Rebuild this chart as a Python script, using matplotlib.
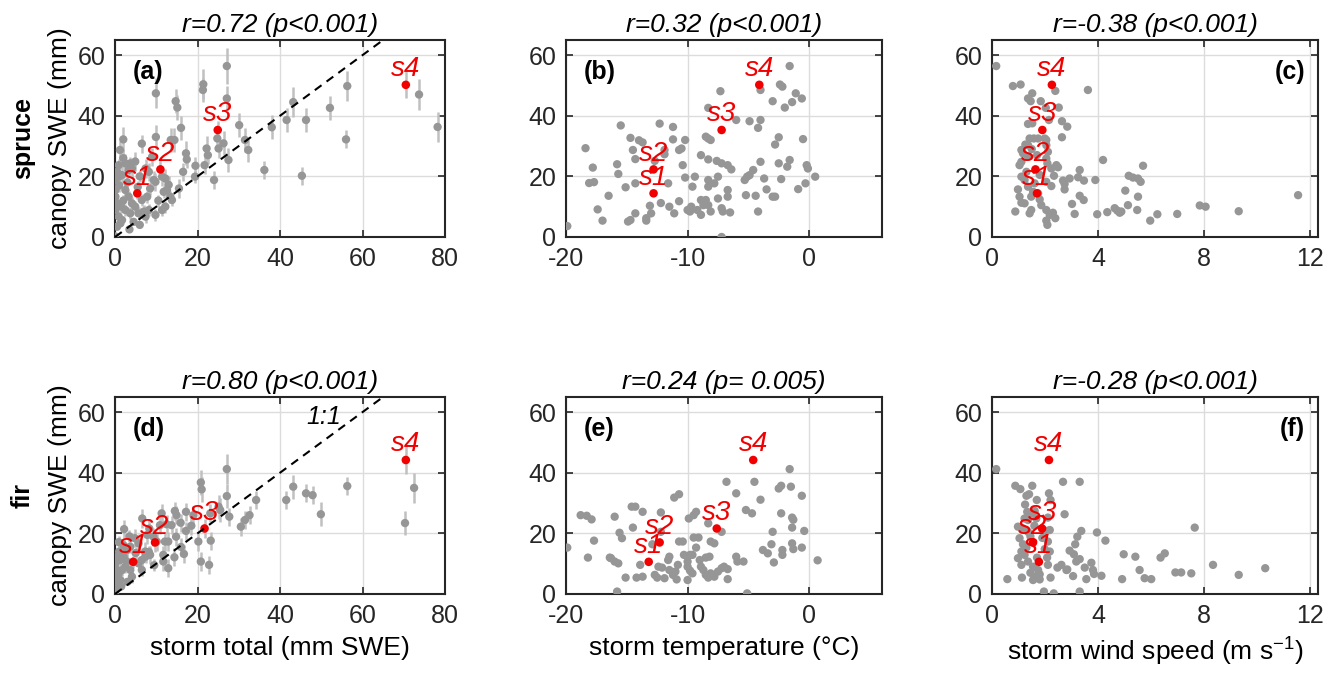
import matplotlib
matplotlib.use('Agg')
import matplotlib.pyplot as plt

plt.rcParams['font.family'] = ['Liberation Sans', 'DejaVu Sans']
plt.rcParams['mathtext.fontset'] = 'custom'
plt.rcParams['mathtext.rm'] = 'Liberation Sans'
plt.rcParams['mathtext.it'] = 'Liberation Sans:italic'
plt.rcParams['axes.unicode_minus'] = False

# ---- (a) spruce: storm total vs canopy SWE (with error bars)
a_total = [9.9, 14.7, 15.1, 21.4, 21.3, 27.1, 27.1, 16.0, 13.5, 14.4,
           9.9, 2.0, 6.5, 17.2, 17.4, 1.2, 24.8, 25.1, 22.2, 22.5,
           26.3, 27.5, 30.1, 31.5, 32.3, 21.7, 24.0, 19.4, 36.2, 38.0,
           41.6, 43.2, 46.3, 52.1, 56.3, 56.0, 45.3, 73.7, 78.2, 0.9,
           2.5, 3.7, 4.9, 0.1, 0.9, 1.7, 3.3, 4.1, 7.4, 8.2,
           9.4, 9.8, 11.4, 12.2, 13.0, 12.6, 11.8, 13.4, 13.8, 12.2,
           11.4, 9.8, 7.0, 8.2, 7.4, 0.1, 0.1, 0.5, 0.1, 0.9,
           1.3, 0.5, 1.7, 2.5, 3.3, 4.1, 2.5, 3.7, 4.9, 5.7,
           6.5, 7.8, 0.0, 1.0, 2.0, 3.0, 5.5, 6.0, 1.5, 4.5,
           0.5, 8.5, 10.5, 2.0, 9.0, 3.5, 6.0, 15.5, 16.5, 19.5]
a_swe = [47.4, 44.8, 42.7, 50.4, 48.5, 56.4, 45.7, 36.0, 32.0, 32.0,
         33.0, 32.2, 30.8, 27.6, 25.6, 28.7, 32.5, 29.2, 29.2, 27.0,
         30.9, 25.4, 36.9, 32.0, 28.7, 23.7, 18.8, 19.9, 22.1, 36.2,
         38.6, 44.5, 38.6, 42.6, 49.8, 32.2, 20.2, 47.0, 36.3, 23.7,
         24.3, 24.3, 24.9, 18.8, 19.9, 20.4, 22.1, 22.6, 22.6, 21.5,
         18.8, 18.2, 19.9, 19.3, 17.2, 15.5, 14.9, 13.3, 12.2, 10.0,
         8.9, 7.3, 8.4, 8.9, 6.7, 15.5, 13.3, 11.1, 8.9, 6.7,
         4.5, 3.4, 5.6, 15.5, 13.3, 11.1, 8.9, 7.8, 10.0, 7.8,
         12.2, 13.3, 0.2, 17.0, 12.0, 18.0, 16.5, 20.0, 10.0, 5.0,
         21.5, 16.0, 12.0, 26.0, 26.5, 2.5, 4.0, 16.0, 21.5, 23.5]
a_err = [5, 4, 4, 5, 4, 6, 4, 4, 4, 4,
         4, 4, 3, 4, 3, 3, 4, 3, 4, 3,
         4, 4, 4, 4, 4, 3, 3, 2, 3, 4,
         4, 5, 4, 4, 5, 3, 3, 5, 5, 2,
         3, 2, 3, 2, 2, 3, 2, 3, 3, 3,
         3, 3, 3, 3, 3, 3, 2, 2, 2, 2,
         2, 2, 2, 2, 2, 2, 2, 2, 2, 2,
         1, 1, 1, 2, 2, 2, 2, 2, 2, 2,
         2, 2, 0.5, 2, 2, 2, 2, 2, 2, 1,
         2, 2, 2, 3, 3, 1, 1, 3, 3, 3]

# ---- (b) spruce: storm temperature
b_temp = [-19.9, -18.4, -17.8, -18.1, -17.7, -17.4, -17.0, -16.5, -15.8, -15.7,
          -15.5, -15.1, -14.9, -14.7, -14.7, -14.5, -14.3, -14.3, -14.3, -14.0,
          -13.7, -13.4, -13.4, -13.1, -13.0, -12.7, -12.3, -12.2, -11.9, -11.9,
          -11.6, -11.5, -11.2, -11.2, -11.1, -10.7, -10.5, -10.7, -10.4, -10.2,
          -10.2, -10.0, -9.8, -9.7, -9.6, -9.4, -8.9, -8.9, -8.7, -8.5,
          -9.2, -8.9, -8.5, -8.3, -8.1, -8.3, -8.3, -8.3, -8.3, -7.6,
          -7.2, -7.5, -7.8, -8.3, -8.1, -7.5, -7.2, -7.1, -7.3, -7.2,
          -6.7, -6.4, -6.7, -6.7, -6.5, -6.0, -5.3, -5.1, -4.9, -5.2,
          -4.9, -4.6, -4.2, -4.2, -4.4, -4.0, -4.0, -4.0, -3.7, -3.5,
          -3.0, -3.0, -2.8, -2.8, -2.5, -2.5, -2.4, -2.2, -2.3, -2.0,
          -1.4, -1.8, -1.6, -1.6, -1.1, -0.6, -0.9, -0.3, -0.5, -0.2,
          -0.1, 0.5]
b_swe = [3.6, 29.3, 22.9, 17.8, 18.1, 9.1, 5.4, 13.6, 24.0, 20.8,
         36.8, 16.4, 5.1, 5.6, 32.7, 28.7, 25.7, 17.7, 7.8, 31.9,
         31.2, 6.2, 5.4, 10.3, 7.8, 25.1, 37.4, 11.2, 28.7, 27.3,
         17.7, 10.0, 36.3, 32.2, 7.8, 28.7, 29.2, 11.8, 23.7, 32.0,
         19.6, 8.9, 8.4, 10.0, 16.6, 19.9, 27.0, 12.2, 10.5, 12.2,
         8.9, 7.3, 33.1, 32.5, 32.0, 42.6, 18.8, 16.6, 25.6, 25.1,
         24.3, 19.9, 17.7, 10.5, 8.4, 12.7, 9.5, 8.4, 48.1, 0.0,
         23.7, 22.3, 15.5, 13.3, 8.1, 38.6, 18.8, 19.9, 20.4, 13.8,
         38.2, 22.1, 36.0, 8.4, 13.6, 48.5, 38.6, 24.8, 19.3, 15.7,
         44.8, 13.3, 13.3, 30.5, 32.9, 24.3, 50.3, 49.6, 19.1, 42.7,
         44.5, 23.2, 25.4, 56.4, 47.4, 45.7, 15.8, 17.7, 32.3, 23.7,
         22.6, 19.9]

# ---- (c) spruce: storm wind speed
c_wind = [0.16, 0.79, 1.08, 1.36, 1.52, 1.46, 1.84, 2.39, 2.03, 2.52,
          2.15, 2.64, 2.84, 2.64, 3.62, 1.36, 1.52, 1.42, 1.58, 1.74,
          1.99, 2.05, 1.26, 1.36, 2.05, 1.11, 1.17, 2.11, 1.36, 2.05,
          1.04, 1.11, 2.09, 2.24, 2.43, 2.49, 2.34, 1.11, 1.23, 2.05,
          2.24, 2.68, 2.74, 2.93, 2.74, 3.25, 3.31, 3.47, 3.90, 4.19,
          5.16, 5.32, 5.51, 5.61, 5.70, 5.03, 5.51, 5.13, 5.48, 3.31,
          3.46, 3.02, 3.12, 3.97, 4.35, 4.63, 4.73, 4.82, 4.88, 5.97,
          6.24, 6.99, 7.84, 8.06, 9.31, 11.55, 0.98, 1.04, 1.11, 0.88,
          1.42, 1.48, 1.74, 1.80, 1.86, 2.05, 2.18, 2.30, 2.39, 2.05,
          2.09, 1.61, 1.55, 1.36, 1.23, 1.48, 1.30, 1.70, 1.50, 1.80]
c_swe = [56.4, 49.8, 50.3, 45.7, 47.4, 44.8, 44.8, 48.2, 42.6, 42.7,
         38.6, 38.2, 36.4, 32.9, 48.5, 37.3, 37.5, 32.5, 32.5, 32.5,
         32.5, 32.0, 30.5, 30.3, 30.3, 28.7, 27.6, 28.1, 26.5, 25.9,
         23.7, 24.8, 24.3, 22.6, 23.7, 23.0, 20.2, 19.9, 18.8, 18.2,
         16.8, 18.6, 17.5, 19.3, 15.7, 19.7, 22.1, 18.6, 18.8, 25.4,
         20.2, 19.6, 19.3, 18.2, 23.5, 15.3, 13.3, 10.5, 8.9, 13.6,
         12.2, 10.9, 7.6, 7.5, 8.2, 9.5, 8.7, 8.0, 8.4, 5.4,
         7.5, 7.6, 10.4, 10.0, 8.5, 13.8, 15.7, 13.3, 11.3, 8.4,
         7.8, 8.9, 14.4, 12.4, 10.5, 8.9, 7.3, 8.0, 6.2, 5.4,
         4.0, 17.7, 14.9, 16.6, 11.1, 13.3, 21.5, 27.0, 29.0, 20.5]

# ---- (d) fir: storm total vs canopy SWE (with error bars)
d_total = [27.1, 20.8, 21.0, 27.1, 25.1, 25.5, 27.7, 23.1, 34.2, 32.6,
           31.5, 30.5, 23.2, 20.2, 20.8, 22.8, 17.2, 17.2, 16.7, 14.5,
           14.9, 15.9, 14.8, 14.4, 11.3, 10.9, 12.5, 13.7, 12.9, 12.1,
           11.7, 11.7, 12.9, 6.6, 8.3, 2.2, 4.8, 5.7, 9.3, 10.1,
           7.3, 8.5, 6.5, 41.5, 43.2, 46.3, 47.9, 49.9, 56.3, 72.5,
           70.3, 0.0, 0.5, 1.3, 0.1, 0.9, 0.5, 1.7, 2.5, 0.1,
           1.3, 0.5, 2.1, 2.9, 3.7, 4.1, 5.7, 6.5, 7.4, 8.2,
           2.9, 3.7, 0.9, 2.1, 1.0, 0.3, 3.0, 5.0, 9.5, 7.8,
           3.5, 1.5, 18.5, 19.0, 16.0]
d_swe = [41.2, 36.8, 34.5, 32.3, 28.8, 27.7, 25.5, 26.6, 31.0, 26.0,
         24.4, 22.2, 17.6, 17.3, 10.7, 9.6, 27.1, 20.8, 13.2, 27.4,
         26.0, 23.5, 18.9, 12.1, 26.6, 22.7, 23.0, 22.7, 17.3, 17.3,
         12.9, 10.7, 8.5, 24.9, 21.6, 21.4, 18.4, 16.7, 18.9, 17.3,
         14.0, 12.9, 11.2, 31.0, 35.4, 33.2, 32.6, 26.3, 35.6, 35.0,
         23.4, 0.2, 3.5, 4.6, 5.7, 6.8, 7.9, 7.9, 9.0, 10.1,
         11.2, 12.3, 12.3, 10.7, 7.9, 5.7, 10.1, 7.9, 12.3, 13.9,
         14.5, 15.6, 17.1, 16.0, 14.0, 2.0, 4.0, 13.5, 9.5, 19.5,
         19.0, 2.5, 22.5, 26.0, 15.5]
d_err = [5, 4, 4, 4, 4, 4, 3, 3, 3, 3,
         3, 3, 3, 3, 3, 3, 3, 3, 3, 3,
         3, 3, 3, 3, 3, 3, 3, 3, 3, 3,
         3, 3, 3, 3, 3, 3, 3, 3, 3, 3,
         3, 3, 3, 3, 4, 3, 3, 4, 3, 5,
         4, 0.5, 1, 1, 1, 2, 2, 2, 2, 2,
         2, 2, 2, 2, 2, 2, 2, 2, 2, 2,
         2, 2, 2, 2, 2, 1, 1, 2, 2, 3,
         2, 1, 3, 3, 3]

# ---- (e) fir: storm temperature
e_temp = [-19.9, -18.8, -18.3, -17.9, -18.2, -17.7, -16.4, -16.0, -16.3, -15.7,
          -16.0, -15.8, -15.6, -15.4, -15.1, -14.6, -14.3, -14.5, -14.2, -13.7,
          -13.9, -13.7, -12.9, -12.7, -12.5, -12.2, -12.4, -12.1, -12.2, -11.9,
          -11.5, -11.6, -11.5, -11.2, -11.0, -11.1, -10.7, -10.8, -10.9, -10.4,
          -10.3, -10.7, -10.0, -10.0, -9.8, -9.6, -10.0, -9.9, -9.5, -9.3,
          -9.8, -9.6, -9.5, -9.3, -9.1, -9.0, -8.9, -8.7, -8.5, -8.2,
          -8.3, -8.5, -8.3, -8.1, -7.8, -7.5, -8.1, -7.8, -7.2, -7.2,
          -7.0, -6.7, -6.7, -6.8, -6.0, -6.0, -5.9, -5.4, -5.2, -4.7,
          -5.1, -4.5, -4.0, -3.8, -3.4, -3.1, -3.0, -2.9, -2.5, -2.3,
          -2.3, -2.2, -2.2, -1.6, -1.5, -1.4, -1.3, -1.4, -1.4, -1.3,
          -0.6, -0.6, -0.4, 0.7]
e_swe = [15.3, 26.0, 25.8, 24.6, 12.0, 17.6, 12.0, 10.7, 11.8, 10.1,
         25.5, 0.8, 20.2, 18.4, 5.4, 28.8, 28.8, 21.9, 5.4, 5.7,
         9.6, 27.1, 16.4, 6.3, 5.4, 26.9, 9.0, 8.7, 20.5, 5.2,
         12.3, 11.2, 7.9, 6.3, 7.4, 31.8, 32.9, 9.6, 4.8, 17.3,
         12.9, 17.3, 10.7, 9.0, 7.7, 6.8, 4.6, 24.9, 26.0, 27.1,
         12.9, 12.9, 18.6, 15.3, 18.6, 11.2, 9.0, 7.9, 12.0, 12.3,
         23.3, 6.3, 5.4, 6.8, 5.7, 7.4, 17.3, 16.7, 20.5, 8.5,
         9.0, 8.2, 4.9, 37.0, 33.2, 12.3, 10.7, 10.7, 27.7, 26.6,
         0.2, 37.0, 31.1, 14.5, 13.4, 16.4, 20.5, 10.4, 34.8, 35.7,
         26.6, 14.5, 12.9, 41.2, 35.4, 25.2, 24.5, 21.9, 16.7, 14.8,
         32.4, 15.3, 20.8, 11.1]

# ---- (f) fir: storm wind speed
f_wind = [0.16, 0.88, 1.07, 1.52, 1.30, 1.40, 1.69, 2.15, 2.21, 2.68,
          3.31, 2.74, 1.33, 1.48, 1.61, 1.23, 1.36, 1.67, 2.11, 0.98,
          1.17, 1.36, 2.05, 2.18, 1.04, 1.17, 1.30, 2.11, 1.99, 2.18,
          1.11, 1.23, 0.98, 1.11, 1.36, 1.55, 2.08, 2.11, 1.74, 1.80,
          1.61, 1.13, 0.58, 2.21, 1.55, 1.80, 1.96, 2.33, 2.47, 2.62,
          2.81, 3.06, 2.84, 2.93, 3.09, 3.14, 3.18, 3.31, 3.22, 3.37,
          3.31, 3.50, 3.56, 3.75, 3.81, 3.85, 3.96, 4.13, 4.28, 4.91,
          4.97, 5.41, 5.57, 5.76, 6.01, 6.36, 6.52, 6.92, 7.14, 7.52,
          7.65, 8.34, 9.31, 10.31, 1.45, 1.60, 1.25, 1.70, 1.45, 1.90]
f_swe = [41.2, 35.7, 34.6, 35.7, 32.4, 32.9, 31.0, 33.2, 31.0, 37.0,
         37.0, 26.3, 27.1, 26.6, 27.4, 24.9, 24.4, 24.9, 25.2, 22.2,
         21.6, 20.5, 20.8, 21.1, 18.4, 16.4, 15.3, 17.3, 14.8, 14.0,
         14.0, 12.9, 11.8, 9.6, 10.7, 9.0, 12.0, 9.6, 7.9, 6.5,
         5.7, 5.4, 4.9, 5.4, 4.6, 4.8, 0.8, 0.2, 8.7, 9.6,
         7.9, 5.9, 8.1, 14.3, 13.1, 16.4, 10.7, 11.5, 18.9, 20.8,
         0.8, 8.7, 4.9, 10.3, 7.9, 6.6, 20.3, 6.0, 17.6, 4.9,
         13.1, 12.3, 7.9, 5.2, 4.9, 12.0, 13.4, 7.1, 7.1, 6.8,
         21.9, 9.6, 6.3, 8.5, 19.0, 22.5, 29.5, 12.0, 7.0, 18.5]

# ---- highlighted storms s1-s4
s_labels = ['s1', 's2', 's3', 's4']
spruce_s_total = [5.4, 11.0, 24.9, 70.5]
spruce_s_temp = [-12.8, -12.8, -7.2, -4.1]
spruce_s_wind = [1.70, 1.64, 1.90, 2.26]
spruce_s_swe = [14.4, 22.3, 35.3, 50.2]
spruce_s_err = [2, 3, 3, 4.5]
fir_s_total = [4.4, 9.7, 21.7, 70.5]
fir_s_temp = [-13.2, -12.3, -7.6, -4.6]
fir_s_wind = [1.77, 1.55, 1.89, 2.15]
fir_s_swe = [10.6, 17.0, 21.6, 44.2]
fir_s_err = [2, 3, 3, 4.5]

titles = ['r=0.72 (p<0.001)', 'r=0.32 (p<0.001)', 'r=-0.38 (p<0.001)',
          'r=0.80 (p<0.001)', 'r=0.24 (p= 0.005)', 'r=-0.28 (p<0.001)']
panel_tags = ['(a)', '(b)', '(c)', '(d)', '(e)', '(f)']
x_labels = ['storm total (mm SWE)', 'storm temperature (\u00b0C)',
            'storm wind speed (m s$^{-1}$)']

GRAY = '#969696'
BAR = '#c0c0c0'
RED = '#f00000'
DARK = '#262626'

fig = plt.figure(figsize=(13.36, 6.81), dpi=100)
lefts = [0.0861, 0.4237, 0.7425]
widths = [0.247, 0.2365, 0.244]
bottoms = [0.652, 0.1278]
height = 0.2893

xlims = [(0, 80), (-20, 6), (0, 12.3)]
xticks = [[0, 20, 40, 60, 80], [-20, -10, 0], [0, 4, 8, 12]]

axes = []
for r in range(2):
    for c in range(3):
        ax = fig.add_axes([lefts[c], bottoms[r], widths[c], height])
        ax.set_xlim(xlims[c])
        ax.set_ylim(0, 65)
        ax.set_xticks(xticks[c])
        ax.set_yticks([0, 20, 40, 60])
        ax.grid(True, color='#dcdcdc', lw=1.0)
        ax.set_axisbelow(True)
        ax.tick_params(direction='in', top=True, right=True, length=5,
                       width=1.2, labelsize=18, colors=DARK, pad=7)
        for s in ax.spines.values():
            s.set_linewidth(1.5)
            s.set_color(DARK)
        ax.set_title(titles[r * 3 + c], fontsize=19, style='italic', pad=6)
        axes.append(ax)


def draw_points(ax, x, y, sx, sy, err=None, s_err=None):
    if err is not None:
        ax.errorbar(x, y, yerr=err, fmt='none', ecolor=BAR, elinewidth=1.8,
                    capsize=0, zorder=2)
        ax.errorbar(sx, sy, yerr=s_err, fmt='none', ecolor=BAR, elinewidth=1.8,
                    capsize=0, zorder=2)
    ax.scatter(x, y, s=36, color=GRAY, edgecolors='none', zorder=3)
    ax.scatter(sx, sy, s=38, color=RED, edgecolors='none', zorder=4)
    for lbl, px, py in zip(s_labels, sx, sy):
        ax.annotate(lbl, (px, py), xytext=(0, 2), textcoords='offset points',
                    ha='center', va='bottom', color=RED, style='italic',
                    fontsize=20, zorder=5)


draw_points(axes[0], a_total, a_swe, spruce_s_total, spruce_s_swe, a_err, spruce_s_err)
draw_points(axes[1], b_temp, b_swe, spruce_s_temp, spruce_s_swe)
draw_points(axes[2], c_wind, c_swe, spruce_s_wind, spruce_s_swe)
draw_points(axes[3], d_total, d_swe, fir_s_total, fir_s_swe, d_err, fir_s_err)
draw_points(axes[4], e_temp, e_swe, fir_s_temp, fir_s_swe)
draw_points(axes[5], f_wind, f_swe, fir_s_wind, fir_s_swe)

# 1:1 lines
for ax in (axes[0], axes[3]):
    ax.plot([0, 80], [0, 80], color='k', ls='--', lw=1.5, dashes=(4, 3), zorder=4)
axes[3].text(50.5, 58.5, '1:1', fontsize=18, style='italic', ha='center', va='center')

# panel tags
for i, ax in enumerate(axes):
    if i in (2, 5):
        ax.text(0.96, 0.9, panel_tags[i], transform=ax.transAxes, ha='right',
                va='top', fontsize=18, fontweight='bold')
    else:
        ax.text(0.055, 0.9, panel_tags[i], transform=ax.transAxes, ha='left',
                va='top', fontsize=18, fontweight='bold')

for ax in (axes[0], axes[3]):
    ax.set_ylabel('canopy SWE (mm)', fontsize=19, labelpad=4)
for c, ax in enumerate(axes[3:]):
    ax.set_xlabel(x_labels[c], fontsize=19, labelpad=6)

fig.text(0.017, 0.797, 'spruce', rotation=90, fontsize=18, fontweight='bold',
         ha='center', va='center')
fig.text(0.017, 0.273, 'fir', rotation=90, fontsize=18, fontweight='bold',
         ha='center', va='center')

fig.savefig('out.png', dpi=100)
